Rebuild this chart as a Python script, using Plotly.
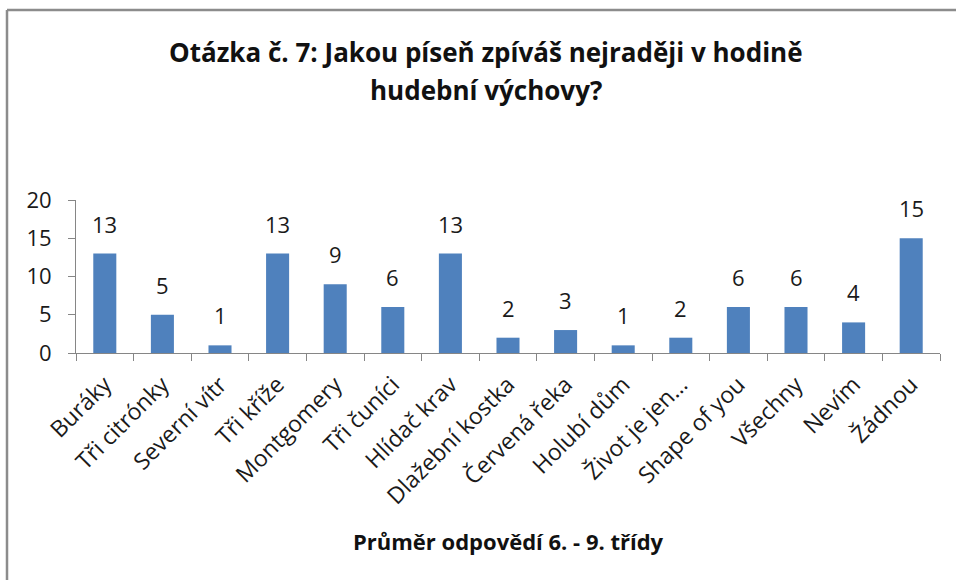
import plotly.graph_objects as go

categories = ["Buráky", "Tři citrónky", "Severní vítr", "Tři kříže", "Montgomery",
              "Tři čuníci", "Hlídač krav", "Dlažební kostka", "Červená řeka",
              "Holubí dům", "Život je jen…", "Shape of you", "Všechny", "Nevím", "Žádnou"]
values = [13, 5, 1, 13, 9, 6, 13, 2, 3, 1, 2, 6, 6, 4, 15]
y_ticks = [0, 5, 10, 15, 20]
title_lines = ["Otázka č. 7: Jakou píseň zpíváš nejraději v hodině", "hudební výchovy?"]
x_title = "Průměr odpovědí 6. - 9. třídy"

FONT = "Open Sans"
BAR = "#4F81BD"
AXIS = "#868686"
TXT = "#1a1a1a"

# plot-area geometry (pixels) used for the frame shapes / title placement
L, R, T, B = 76, 16, 200, 227
PW, PH = 956 - L - R, 580 - T - B


def py(pix):
    """pixel row -> paper y"""
    return (580 - B - pix) / PH


def px(pix):
    """pixel column -> paper x"""
    return (pix - L) / PW


fig = go.Figure()
fig.add_trace(go.Bar(x=categories, y=values, marker=dict(color=BAR, line=dict(width=0)),
                     hoverinfo="x+y"))

for c, v in zip(categories, values):
    fig.add_annotation(x=c, y=v, text=str(v), showarrow=False, yanchor="bottom",
                       yshift=13, font=dict(family=FONT, size=22, color=TXT))

# chart title (two lines)
for line, ycen in zip(title_lines, [52, 90]):
    fig.add_annotation(xref="paper", yref="paper", x=px(486), y=py(ycen),
                       text="<b>" + line + "</b>", showarrow=False,
                       xanchor="center", yanchor="middle",
                       font=dict(family=FONT, size=26, color="#111111"))

# x-axis title
fig.add_annotation(xref="paper", yref="paper", x=0.5, y=py(541),
                   text="<b>" + x_title + "</b>", showarrow=False,
                   xanchor="center", yanchor="middle",
                   font=dict(family=FONT, size=22, color="#111111"))

fig.update_layout(
    width=956, height=580,
    margin=dict(l=L, r=R, t=T, b=B),
    paper_bgcolor="white", plot_bgcolor="white",
    bargap=0.6,
    showlegend=False,
    font=dict(family=FONT, color=TXT),
)
fig.update_xaxes(
    automargin=False,
    tickangle=-45, tickson="boundaries", ticks="outside", ticklen=7, tickcolor=AXIS,
    ticklabelstandoff=8,
    showline=True, linecolor=AXIS, linewidth=1, showgrid=False,
    tickfont=dict(family=FONT, size=23, color=TXT),
)
fig.update_yaxes(
    automargin=False,
    range=[0, 20], tickvals=y_ticks, ticks="outside", ticklen=7, tickcolor=AXIS,
    ticklabelstandoff=12,
    showline=True, linecolor=AXIS, linewidth=1, showgrid=False, zeroline=False,
    tickfont=dict(family=FONT, size=22, color=TXT),
)
# chart frame (left and top edges visible)
fig.add_shape(type="line", xref="paper", yref="paper", x0=px(7), x1=px(7), y0=py(585), y1=py(10),
              line=dict(color="#8C8C8C", width=2.5))
fig.add_shape(type="line", xref="paper", yref="paper", x0=px(7), x1=px(960), y0=py(10), y1=py(10),
              line=dict(color="#8C8C8C", width=2.5))
fig.write_html("out.html", config={"displayModeBar": False},
               post_script="document.body.style.margin='0';document.body.style.overflow='hidden';")
